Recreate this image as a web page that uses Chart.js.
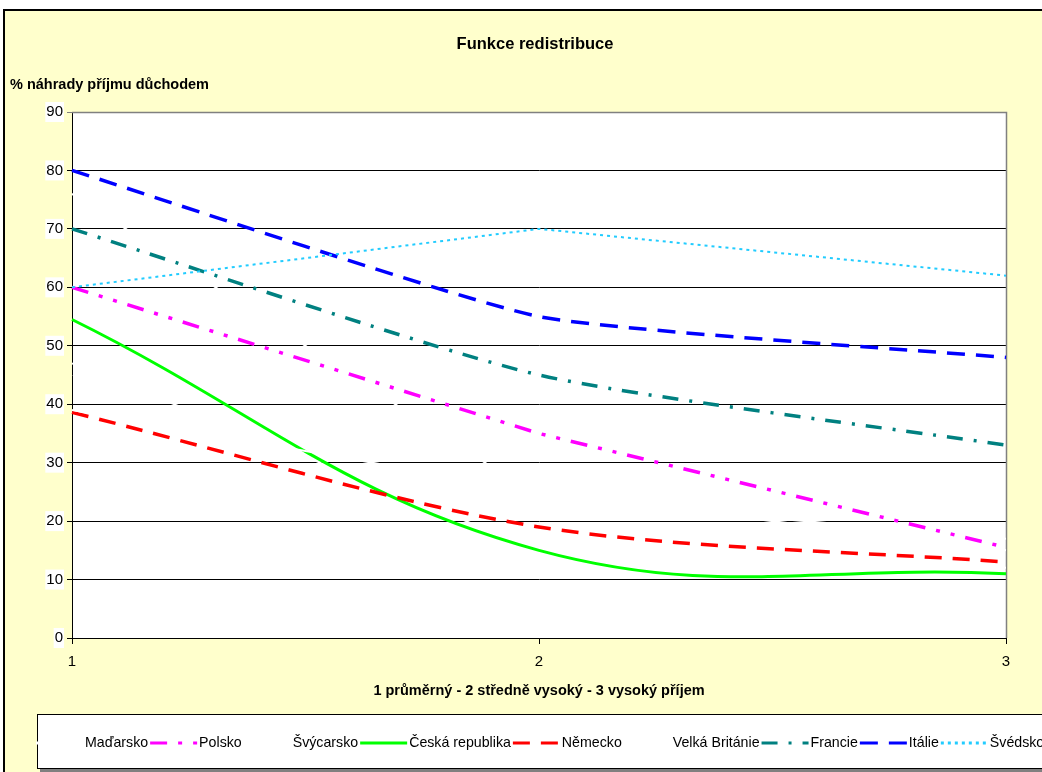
<!DOCTYPE html>
<html>
<head>
<meta charset="utf-8">
<script src="https://cdn.jsdelivr.net/npm/chart.js@4/dist/chart.umd.min.js"></script>
<style>
  html, body { margin: 0; padding: 0; background: #fff; }
  #wrap { width: 1042px; height: 772px; }
</style>
</head>
<body>
<div id="wrap"><canvas id="c" width="1042" height="772"></canvas></div>
<script>
// Income levels on the x axis
const categories = ['1', '2', '3'];

// Pension replacement rate (% of income) per country
const madarsko = [76, 24, 17];
const polsko = [60, 35, 15.5];
const svycarsko = [47, 15, 12];
const ceskaRepublika = [54.5, 15, 11];
const nemecko = [38.6, 19, 13];
const velkaBritanie = [39, 25, 15];
const francie = [70, 45, 33];
const italie = [80, 55, 48];
const svedsko = [60, 70, 62];

const yTicks = [0, 10, 20, 30, 40, 50, 60, 70, 80, 90];

const FONT = "'Liberation Sans', Arial, sans-serif";

const series = [
  { label: 'Maďarsko', data: madarsko, color: '#FFFFFF', dash: [], width: 2, tension: 0 },
  { label: 'Polsko', data: polsko, color: '#FF00FF', dash: [17, 11, 4, 11, 4, 11], width: 3.5, tension: 0 },
  { label: 'Švýcarsko', data: svycarsko, color: '#FFFFFF', dash: [], width: 2, tension: 0 },
  { label: 'Česká republika', data: ceskaRepublika, color: '#00FF00', dash: [], width: 3, tension: 0.4 },
  { label: 'Německo', data: nemecko, color: '#FF0000', dash: [17, 11], width: 3.5, tension: 0.3 },
  { label: 'Velká Británie', data: velkaBritanie, color: '#FFFFFF', dash: [], width: 2, tension: 0 },
  { label: 'Francie', data: francie, color: '#008080', dash: [16, 11, 3, 11], width: 3.5, tension: 0.2 },
  { label: 'Itálie', data: italie, color: '#0000FF', dash: [18, 11], width: 3.5, tension: 0.15 },
  { label: 'Švédsko', data: svedsko, color: '#22CCFF', dash: [3, 4], width: 2, tension: 0 }
];

// Frame, plot background, headings and the legend strip
const decor = {
  id: 'decor',
  beforeDraw(chart) {
    const ctx = chart.ctx;
    const a = chart.chartArea;
    ctx.save();
    ctx.fillStyle = '#FFFFFF';
    ctx.fillRect(0, 0, chart.width, chart.height);
    ctx.fillStyle = '#FFFFCC';
    ctx.fillRect(4, 10, chart.width, chart.height);
    ctx.strokeStyle = '#000';
    ctx.lineWidth = 2;
    ctx.strokeRect(4, 10, chart.width + 10, chart.height + 10);
    ctx.fillStyle = '#FFFFFF';
    ctx.fillRect(a.left, a.top, a.right - a.left, a.bottom - a.top);
    ctx.restore();
  },
  beforeDatasetsDraw(chart) {
    const ctx = chart.ctx;
    const a = chart.chartArea;
    ctx.save();
    ctx.strokeStyle = '#808080';
    ctx.lineWidth = 1.5;
    ctx.beginPath();
    ctx.moveTo(a.left, a.top + 0.5);
    ctx.lineTo(a.right + 0.5, a.top + 0.5);
    ctx.lineTo(a.right + 0.5, a.bottom);
    ctx.stroke();
    ctx.restore();
  },
  afterDraw(chart) {
    const ctx = chart.ctx;
    ctx.save();
    ctx.fillStyle = '#000';
    ctx.textBaseline = 'middle';
    ctx.font = 'bold 16.5px ' + FONT;
    ctx.textAlign = 'center';
    ctx.fillText('Funkce redistribuce', 535, 44);
    ctx.font = 'bold 14.5px ' + FONT;
    ctx.textAlign = 'left';
    ctx.fillText('% náhrady příjmu důchodem', 10, 85);

    // legend box
    const bx = 37, by = 714;
    ctx.fillStyle = '#808080';
    ctx.fillRect(bx + 3, by + 3, chart.width, chart.height);
    ctx.fillStyle = '#FFFFFF';
    ctx.fillRect(bx, by, chart.width, 54);
    ctx.strokeStyle = '#000';
    ctx.lineWidth = 1;
    ctx.strokeRect(bx + 0.5, by + 0.5, chart.width, 54);

    // legend entries: sample line followed by the series name
    ctx.font = '14.2px ' + FONT;
    let x = 36;
    const y = 743;
    chart.data.datasets.forEach(ds => {
      ctx.save();
      ctx.strokeStyle = ds.borderColor;
      ctx.lineWidth = 3;
      ctx.setLineDash(ds.borderDash || []);
      ctx.beginPath();
      ctx.moveTo(x, y);
      ctx.lineTo(x + 47, y);
      ctx.stroke();
      ctx.restore();
      ctx.fillStyle = '#000';
      ctx.fillText(ds.label, x + 49, y);
      x += 49 + ctx.measureText(ds.label).width + 2;
    });
    ctx.restore();
  }
};

const datasets = series.map((s, i) => ({
  label: s.label,
  data: s.data,
  borderColor: s.color,
  backgroundColor: s.color,
  borderDash: s.dash,
  borderWidth: s.width,
  borderCapStyle: 'butt',
  tension: s.tension,
  pointRadius: 0,
  pointHoverRadius: 0,
  fill: false,
  order: series.length - i
}));

new Chart(document.getElementById('c'), {
  type: 'line',
  data: { labels: categories, datasets },
  plugins: [decor],
  options: {
    responsive: false,
    animation: false,
    events: [],
    layout: { padding: { left: 0, top: 112, right: 36, bottom: 72 } },
    plugins: {
      legend: { display: false },
      title: { display: false },
      tooltip: { enabled: false }
    },
    scales: {
      x: {
        offset: false,
        grid: { display: true, drawOnChartArea: false, drawTicks: true, tickLength: 6, color: '#000' },
        border: { display: true, color: '#000', width: 1 },
        ticks: { color: '#000', font: { family: FONT, size: 15 }, padding: 9, maxRotation: 0, autoSkip: false },
        title: {
          display: true,
          text: '1 průměrný - 2 středně vysoký - 3 vysoký příjem',
          color: '#000',
          font: { family: FONT, size: 14.5, weight: 'bold' },
          padding: { top: 5, bottom: 0 }
        },
        afterFit(scale) { scale.height = 62; }
      },
      y: {
        min: 0,
        max: 90,
        afterBuildTicks(scale) { scale.ticks = yTicks.map(v => ({ value: v })); },
        grid: {
          color: ctx => (ctx.tick && ctx.tick.value === 90 ? '#808080' : '#000'),
          lineWidth: 1,
          tickLength: 5,
          drawTicks: true
        },
        border: { display: true, color: '#000', width: 1 },
        ticks: {
          color: '#000',
          font: { family: FONT, size: 15 },
          padding: 4,
          showLabelBackdrop: true,
          backdropColor: '#FFFFFF',
          backdropPadding: { x: 1, y: 1 }
        },
        afterFit(scale) { scale.width = 72; }
      }
    }
  }
});
</script>
</body>
</html>
